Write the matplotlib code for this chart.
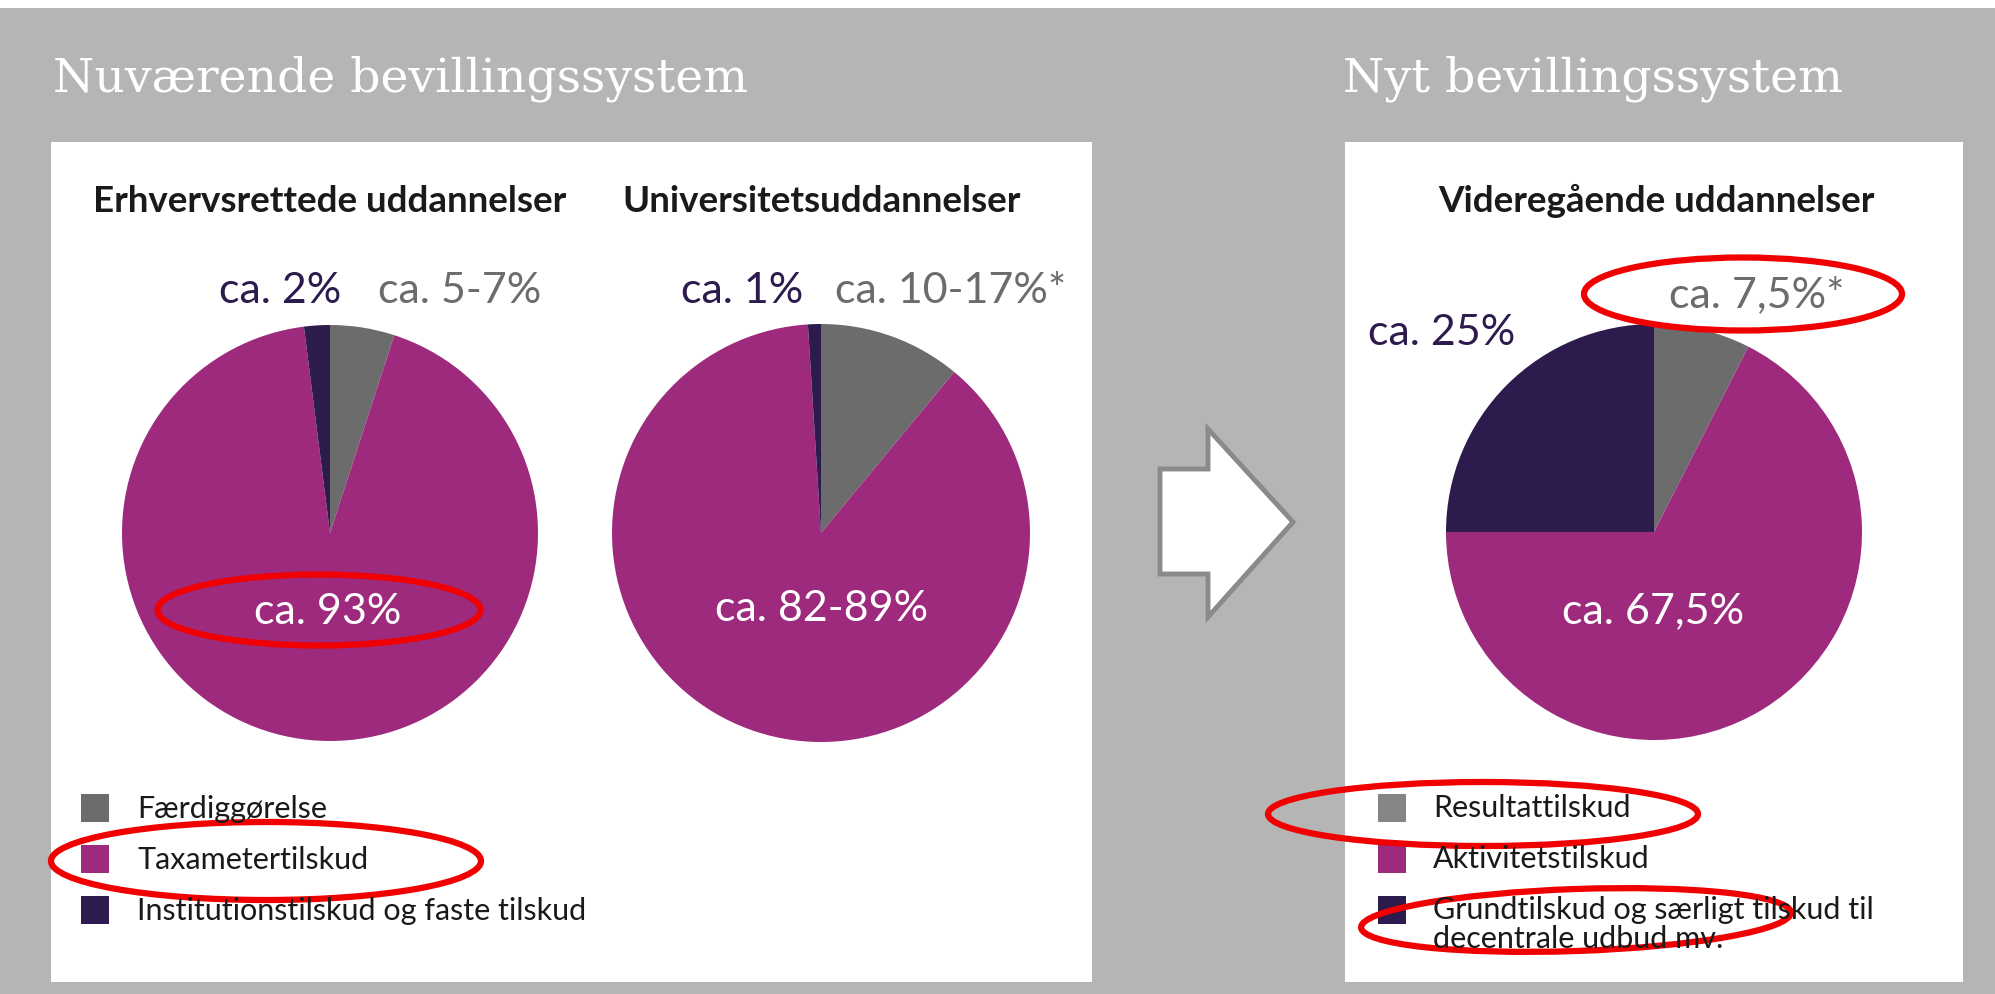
import matplotlib
matplotlib.use('Agg')
import matplotlib.pyplot as plt
from matplotlib.patches import Rectangle, Ellipse, Polygon

# ---- data ----
headline_left = 'Nuværende bevillingssystem'
headline_right = 'Nyt bevillingssystem'

pie_titles = ['Erhvervsrettede uddannelser', 'Universitetsuddannelser', 'Videregående uddannelser']

# shares drawn in each pie: [gray, magenta, navy]
erhverv_shares = [5, 93, 2]
uni_shares = [11, 88, 1]
videre_shares = [7.5, 67.5, 25]

erhverv_labels = ['ca. 5-7%', 'ca. 93%', 'ca. 2%']
uni_labels = ['ca. 10-17%*', 'ca. 82-89%', 'ca. 1%']
videre_labels = ['ca. 7,5%*', 'ca. 67,5%', 'ca. 25%']

legend_left = ['Færdiggørelse', 'Taxametertilskud', 'Institutionstilskud og faste tilskud']
legend_right = ['Resultattilskud', 'Aktivitetstilskud',
                'Grundtilskud og særligt tilskud til\ndecentrale udbud mv.']

GRAY = '#6c6c6c'
GRAY_LIGHT = '#858585'
MAGENTA = '#9e2a7e'
NAVY = '#2c1b4c'
BG = '#b5b5b5'
RED = '#f00000'
SANS = ['Lato', 'DejaVu Sans']

W, H = 1995, 995
fig = plt.figure(figsize=(W / 100, H / 100), dpi=100)
fig.patch.set_facecolor(BG)


def pixel_axes():
    # full-figure canvas in pixel coords (y down)
    a = fig.add_axes([0, 0, 1, 1])
    a.set_xlim(0, W)
    a.set_ylim(H, 0)
    a.axis('off')
    a.patch.set_alpha(0)
    return a


bg = pixel_axes()
bg.add_patch(Rectangle((0, 0), W, 9, color='white', lw=0))
bg.add_patch(Rectangle((51, 143), 1041, 840, color='white', lw=0))
bg.add_patch(Rectangle((1345, 143), 618, 840, color='white', lw=0))

bg.text(53, 79, headline_left, family='DejaVu Serif', fontsize=34, color='white', va='center')
bg.text(1343, 79, headline_right, family='DejaVu Serif', fontsize=34, color='white', va='center')

for x, t in zip([330, 822, 1656], pie_titles):
    bg.text(x, 201, t, family=SANS, fontweight='bold', fontsize=26.5, color='#1a1a1a',
            ha='center', va='center')

# arrow between the two systems
arrow = Polygon([(1160, 470), (1208, 470), (1208, 430), (1293, 523), (1208, 618),
                 (1208, 575), (1160, 575)], closed=True, facecolor='white',
                edgecolor='#8a8a8a', lw=3.5, joinstyle='miter')
bg.add_patch(arrow)


def draw_pie(cx, cy, r, shares, colors):
    ax = fig.add_axes([(cx - r) / W, 1 - (cy + r) / H, 2 * r / W, 2 * r / H])
    ax.pie(shares, colors=colors, startangle=90, counterclock=False,
           wedgeprops=dict(linewidth=0))
    ax.set_xlim(-1, 1)
    ax.set_ylim(-1, 1)
    ax.axis('off')
    return ax


pie_colors = [GRAY, MAGENTA, NAVY]
draw_pie(330, 534, 208, erhverv_shares, pie_colors)
draw_pie(821, 534, 209, uni_shares, pie_colors)
draw_pie(1654, 533, 208, videre_shares, pie_colors)

# overlay for labels and highlights, above the pies
top = pixel_axes()

lab = dict(family=SANS, fontsize=31, va='center')
top.text(341, 291, erhverv_labels[2], color=NAVY, ha='right', **lab)
top.text(378, 291, erhverv_labels[0], color=GRAY, ha='left', **lab)
top.text(328, 612, erhverv_labels[1], color='white', ha='center', **lab)

top.text(803, 291, uni_labels[2], color=NAVY, ha='right', **lab)
top.text(835, 291, uni_labels[0], color=GRAY, ha='left', **lab)
top.text(822, 609, uni_labels[1], color='white', ha='center', **lab)

top.text(1669, 295, videre_labels[0], color=GRAY, ha='left', **lab)
top.text(1653, 611, videre_labels[1], color='white', ha='center', **lab)
top.text(1368, 333, videre_labels[2], color=NAVY, ha='left', **lab)

# legends
rows = [809, 860, 911]
for y, t, c in zip(rows, legend_left, pie_colors):
    top.add_patch(Rectangle((81, y - 14), 28, 28, color=c, lw=0))
    top.text(137, y, t, family=SANS, fontsize=22, color='#1a1a1a', va='center')

right_colors = [GRAY_LIGHT, MAGENTA, NAVY]
for y, t, c in zip(rows, legend_right, right_colors):
    top.add_patch(Rectangle((1378, y - 14), 28, 28, color=c, lw=0))
    top.text(1433, y - 15, t, family=SANS, fontsize=22, color='#1a1a1a', va='top',
            linespacing=1.05)

# red highlight ellipses
for (x, y, w, h, a) in [(319, 611, 323, 71, 0), (1743, 295, 318, 73, 0),
                        (266, 862, 430, 78, 0), (1483, 815, 430, 64, 0),
                        (1576, 921, 430, 62, -2)]:
    top.add_patch(Ellipse((x, y), w, h, angle=a, fill=False, edgecolor=RED, lw=4.5))

fig.savefig('out.png', dpi=100, facecolor=fig.get_facecolor())
